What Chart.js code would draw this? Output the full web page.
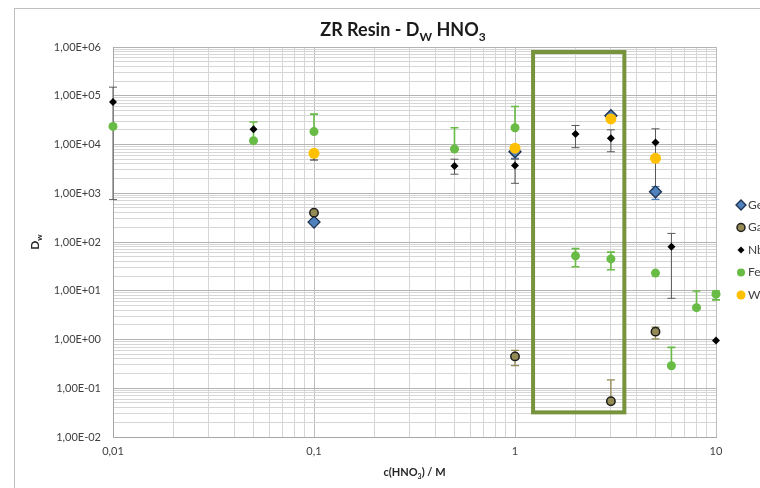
<!DOCTYPE html>
<html>
<head>
<meta charset="utf-8">
<script src="https://cdn.jsdelivr.net/npm/chart.js@4.4.0/dist/chart.umd.min.js"></script>
<style>
  html, body { margin: 0; padding: 0; background: #fff; overflow: hidden; width: 760px; height: 488px; }
  #frame { position: absolute; left: 14px; top: 8px; width: 820px; height: 480px; border: 1px solid #c0c0c0; }
</style>
</head>
<body>
<div id="frame"><canvas id="dw-chart" width="820" height="480"></canvas></div>
<script>
// D_W values, per element
const geX = [0.1, 1, 3, 5];
const geY = [256, 7100, 39000, 1070];
const geLow = [null, 5200, null, 750];
const geHigh = [null, 8500, null, 1370];

const gaX = [0.1, 1, 3, 5];
const gaY = [400, 0.45, 0.054, 1.45];
const gaLow = [null, 0.29, null, 1.03];
const gaHigh = [null, 0.6, 0.148, 1.8];

const nbX = [0.01, 0.05, 0.5, 1, 2, 3, 5, 6, 10];
const nbY = [74000, 20600, 3640, 3700, 16500, 13500, 11000, 80, 0.95];
const nbLow = [740, null, 2460, 1600, 8600, 7100, 1200, 7, null];
const nbHigh = [150000, null, 5000, 5000, 24500, 20000, 21000, 150, null];

const feX = [0.01, 0.05, 0.1, 0.5, 1, 2, 3, 5, 6, 8, 10];
const feY = [23500, 12000, 18400, 8100, 22000, 52, 45, 23, 0.29, 4.5, 8.5];
const feLow = [null, null, null, null, null, 31, 27, null, null, null, 6.5];
const feHigh = [null, 29000, 42000, 22000, 60000, 73, 62, null, 0.69, 9.9, 9.9];

const wX = [0.1, 1, 3, 5];
const wY = [6600, 8400, 33500, 5200];
const wLow = [4800, null, null, null];
const wHigh = [null, null, null, null];

// axis ticks
const xMajor = [0.01, 0.1, 1, 10];
const xTickLabels = ['0,01', '0,1', '1', '10'];
const yMajor = [1e-2, 1e-1, 1e0, 1e1, 1e2, 1e3, 1e4, 1e5, 1e6];
const yTickLabels = ['1,00E-02', '1,00E-01', '1,00E+00', '1,00E+01', '1,00E+02',
                     '1,00E+03', '1,00E+04', '1,00E+05', '1,00E+06'];

// highlighted region (c range, D_W range)
const boxX = [1.23, 3.5];
const boxY = [0.032, 7.9e5];

const FONT = 'Lato, "Open Sans", sans-serif';

function points(xs, ys) {
    return xs.map((x, i) => ({x: x, y: ys[i]}));
}

function withMinors(majors) {
    const out = [];
    majors.forEach((m, i) => {
        out.push(m);
        if (i < majors.length - 1) {
            for (let k = 2; k <= 9; k++) out.push(+(m * k).toPrecision(6));
        }
    });
    return out;
}

function isMajor(v) {
    const l = Math.log10(v);
    return Math.abs(l - Math.round(l)) < 1e-6;
}

function labelFor(v, majors, labels) {
    const i = majors.findIndex(m => Math.abs(m - v) / m < 1e-6);
    return i >= 0 ? labels[i] : '';
}

// text with subscripts: parts = [[text, sub], ...]
function drawRich(ctx, parts, cx, baseY, size, weight, color) {
    const subSize = Math.round(size * 0.68);
    let total = 0;
    parts.forEach(([t, sub]) => {
        ctx.font = weight + ' ' + (sub ? subSize : size) + 'px ' + FONT;
        total += ctx.measureText(t).width;
    });
    let x = cx - total / 2;
    ctx.fillStyle = color;
    ctx.textAlign = 'left';
    ctx.textBaseline = 'alphabetic';
    parts.forEach(([t, sub]) => {
        ctx.font = weight + ' ' + (sub ? subSize : size) + 'px ' + FONT;
        ctx.fillText(t, x, baseY + (sub ? size * 0.28 : 0));
        x += ctx.measureText(t).width;
    });
}

const errorBars = {
    id: 'errorBars',
    beforeDatasetsDraw(chart) {
        const {ctx, scales: {x, y}} = chart;
        ctx.save();
        chart.data.datasets.forEach(ds => {
            ctx.strokeStyle = ds.errColor;
            ctx.lineWidth = ds.errWidth;
            ds.data.forEach((p, i) => {
                const px = x.getPixelForValue(p.x);
                const py = y.getPixelForValue(p.y);
                [ds.errLow[i], ds.errHigh[i]].forEach(v => {
                    if (v == null) return;
                    const ey = y.getPixelForValue(v);
                    ctx.beginPath();
                    ctx.moveTo(px, py);
                    ctx.lineTo(px, ey);
                    ctx.moveTo(px - 4, ey);
                    ctx.lineTo(px + 4, ey);
                    ctx.stroke();
                });
            });
        });
        ctx.restore();
    }
};

const decorations = {
    id: 'decorations',
    afterDatasetsDraw(chart) {
        const {ctx, scales: {x, y}} = chart;
        // green highlight box
        ctx.save();
        ctx.strokeStyle = '#77933c';
        ctx.lineWidth = 4;
        const l = x.getPixelForValue(boxX[0]), r = x.getPixelForValue(boxX[1]);
        const t = y.getPixelForValue(boxY[1]), b = y.getPixelForValue(boxY[0]);
        ctx.strokeRect(l, t, r - l, b - t);
        ctx.restore();
    },
    afterDraw(chart) {
        const {ctx, chartArea} = chart;
        ctx.save();
        // title
        drawRich(ctx, [['ZR Resin - D', false], ['W', true], [' HNO', false], ['3', true]],
            388, 27, 18, 'bold', '#1a1a1a');
        // x axis title
        drawRich(ctx, [['c(HNO', false], ['3', true], [') / M', false]],
            (chartArea.left + chartArea.right) / 2, 467, 11, 'bold', '#262626');
        // y axis title
        ctx.translate(24, (chartArea.top + chartArea.bottom) / 2);
        ctx.rotate(-Math.PI / 2);
        drawRich(ctx, [['D', false], ['w', true]], 0, 0, 12, 'bold', '#262626');
        ctx.restore();

        // legend
        ctx.save();
        const lx = chartArea.right + 25;
        let ly = chartArea.top + 158;
        chart.data.datasets.forEach(ds => {
            ctx.fillStyle = ds.backgroundColor;
            ctx.strokeStyle = ds.borderColor;
            ctx.lineWidth = ds.pointBorderWidth;
            Chart.helpers.drawPoint(ctx, {pointStyle: ds.pointStyle, radius: ds.legendRadius,
                borderWidth: ds.pointBorderWidth, rotation: 0}, lx, ly);
            ctx.fillStyle = '#404040';
            ctx.font = '12px ' + FONT;
            ctx.textAlign = 'left';
            ctx.textBaseline = 'middle';
            ctx.fillText(ds.label, lx + 7, ly);
            ly += 22.5;
        });
        ctx.restore();
    }
};

const ctx = document.getElementById('dw-chart').getContext('2d');
window.dwChart = new Chart(ctx, {
    type: 'scatter',
    data: {
        datasets: [
            {label: 'Ge', data: points(geX, geY), errLow: geLow, errHigh: geHigh,
             pointStyle: 'rectRot', pointRadius: 6, legendRadius: 5, pointBorderWidth: 1.3,
             backgroundColor: '#4f81bd', borderColor: '#1f3250', errColor: '#4f81bd', errWidth: 1.3, order: 5},
            {label: 'Ga', data: points(gaX, gaY), errLow: gaLow, errHigh: gaHigh,
             pointStyle: 'circle', pointRadius: 4.2, legendRadius: 4, pointBorderWidth: 1.5,
             backgroundColor: '#948a54', borderColor: '#1e1e1e', errColor: '#948a54', errWidth: 1.3, order: 4},
            {label: 'Nb', data: points(nbX, nbY), errLow: nbLow, errHigh: nbHigh,
             pointStyle: 'rectRot', pointRadius: 4, legendRadius: 3.5, pointBorderWidth: 0,
             backgroundColor: '#000000', borderColor: '#000000', errColor: '#595959', errWidth: 1, order: 3},
            {label: 'Fe', data: points(feX, feY), errLow: feLow, errHigh: feHigh,
             pointStyle: 'circle', pointRadius: 4.5, legendRadius: 4, pointBorderWidth: 0,
             backgroundColor: '#68bb45', borderColor: '#68bb45', errColor: '#68bb45', errWidth: 1.6, order: 2},
            {label: 'W', data: points(wX, wY), errLow: wLow, errHigh: wHigh,
             pointStyle: 'circle', pointRadius: 5.5, legendRadius: 4.5, pointBorderWidth: 0,
             backgroundColor: '#ffc000', borderColor: '#ffc000', errColor: '#262626', errWidth: 1, order: 1}
        ].map(ds => Object.assign(ds, {borderWidth: ds.pointBorderWidth, pointHoverRadius: ds.pointRadius, clip: false}))
    },
    options: {
        responsive: false,
        animation: false,
        layout: {padding: {left: 15, right: 119, top: 38, bottom: 32}},
        plugins: {legend: {display: false}, tooltip: {enabled: false}},
        scales: {
            x: {
                type: 'logarithmic',
                min: 0.01, max: 10,
                afterBuildTicks: scale => { scale.ticks = withMinors(xMajor).map(v => ({value: v})); },
                afterFit: scale => { scale.height = 20; },
                ticks: {
                    autoSkip: false, maxRotation: 0, padding: 8,
                    color: '#404040', font: {family: FONT, size: 11},
                    callback: v => labelFor(v, xMajor, xTickLabels)
                },
                grid: {
                    drawTicks: false,
                    color: c => isMajor(c.tick.value) ? '#bdbdbd' : '#d6d6d6'
                },
                border: {color: '#a6a6a6'}
            },
            y: {
                type: 'logarithmic',
                min: 0.01, max: 1e6,
                afterBuildTicks: scale => { scale.ticks = withMinors(yMajor).map(v => ({value: v})); },
                afterFit: scale => { scale.width = 83; },
                ticks: {
                    autoSkip: false, padding: 12,
                    color: '#404040', font: {family: FONT, size: 11},
                    callback: v => labelFor(v, yMajor, yTickLabels)
                },
                grid: {
                    drawTicks: false,
                    color: c => isMajor(c.tick.value) ? '#b3b3b3' : '#d6d6d6'
                },
                border: {color: '#a6a6a6'}
            }
        }
    },
    plugins: [errorBars, decorations]
});
</script>
</body>
</html>
